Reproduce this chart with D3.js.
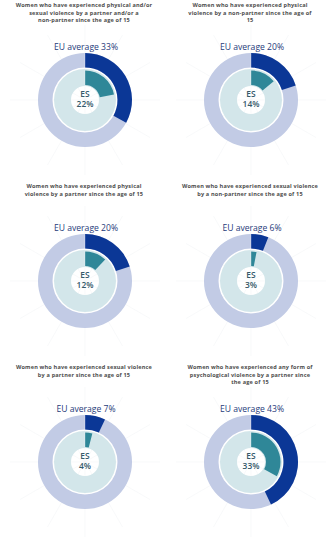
<!DOCTYPE html>
<html><head><meta charset="utf-8">
<script src="https://cdn.jsdelivr.net/npm/d3@7"></script>
<style>html,body{margin:0;padding:0;background:#fff;}svg{display:block;}</style>
</head><body>
<svg id="chart" width="332" height="543"></svg>
<script>
const titles = [
  "Women who have experienced physical and/or|sexual violence by a partner and/or a|non-partner since the age of 15",
  "Women who have experienced physical|violence by a non-partner since the age of|15",
  "Women who have experienced physical|violence by a partner since the age of 15",
  "Women who have experienced sexual violence|by a non-partner since the age of 15",
  "Women who have experienced sexual violence|by a partner since the age of 15",
  "Women who have experienced any form of|psychological violence by a partner since|the age of 15"
];
const euValues = [33, 20, 20, 6, 7, 43];
const esValues = [22, 14, 12, 3, 4, 33];
const countryLabel = "ES";
const euLabel = "EU average";

const svg = d3.select("#chart");
const cols = 2;
const panelW = 166, rowTops = [0, 181, 362];
const angle = d3.scaleLinear().domain([0, 100]).range([0, 2 * Math.PI]);

const outerArc = d3.arc().innerRadius(32.5).outerRadius(47);
const innerBg = d3.arc().innerRadius(14).outerRadius(31);
const innerArc = d3.arc().innerRadius(15).outerRadius(29.5);

titles.forEach((t, i) => {
  const col = i % cols, row = Math.floor(i / cols);
  const cx = col * panelW + 85, top = rowTops[row];
  const cy = top + 100;
  const g = svg.append("g");

  // faint background rays
  const rays = g.append("g").attr("transform", `translate(${cx},${cy})`);
  d3.range(12).forEach(k => {
    const a = k * Math.PI / 6;
    rays.append("line").attr("x1", 0).attr("y1", 0)
      .attr("x2", 75 * Math.sin(a)).attr("y2", -75 * Math.cos(a))
      .attr("stroke", "#f3f5f7").attr("stroke-width", 0.6);
  });

  // title, one text per line
  t.split("|").forEach((l, j) => {
    g.append("text").attr("x", cx - 1).attr("y", top + 7.2 + j * 7.6)
      .attr("text-anchor", "middle").attr("font-family", "Open Sans, sans-serif")
      .attr("font-weight", "bold").attr("font-size", 5.55).attr("letter-spacing", 0.18)
      .attr("fill", "#4d4d4d").text(l);
  });

  // EU label
  g.append("text").attr("x", cx + 1).attr("y", top + 49.5)
    .attr("text-anchor", "middle").attr("font-family", "Open Sans, sans-serif")
    .attr("font-size", 8.6).attr("fill", "#1f3b7a")
    .text(`${euLabel} ${euValues[i]}%`);

  const d = g.append("g").attr("transform", `translate(${cx},${cy})`);
  d.append("path").attr("d", outerArc({startAngle: 0, endAngle: 2 * Math.PI})).attr("fill", "#c2cbe5");
  d.append("path").attr("d", outerArc({startAngle: 0, endAngle: angle(euValues[i])})).attr("fill", "#0b3796");
  d.append("path").attr("d", innerBg({startAngle: 0, endAngle: 2 * Math.PI})).attr("fill", "#d3e6ea");
  d.append("path").attr("d", innerArc({startAngle: 0, endAngle: angle(esValues[i])})).attr("fill", "#2f8798");
  d.append("line").attr("x1", 0).attr("y1", -14).attr("x2", 0).attr("y2", -47)
    .attr("stroke", "#ffffff").attr("stroke-width", 0.5).attr("stroke-opacity", 0.6);

  d.append("text").attr("x", 0).attr("y", -3.5).attr("text-anchor", "middle")
    .attr("font-family", "Open Sans, sans-serif").attr("font-size", 8.4).attr("font-weight", 600)
    .attr("fill", "#35596a").text(countryLabel);
  d.append("text").attr("x", 0).attr("y", 7).attr("text-anchor", "middle")
    .attr("font-family", "Open Sans, sans-serif").attr("font-size", 8.4).attr("font-weight", 600)
    .attr("fill", "#35596a").text(`${esValues[i]}%`);
});
</script>
</body></html>
